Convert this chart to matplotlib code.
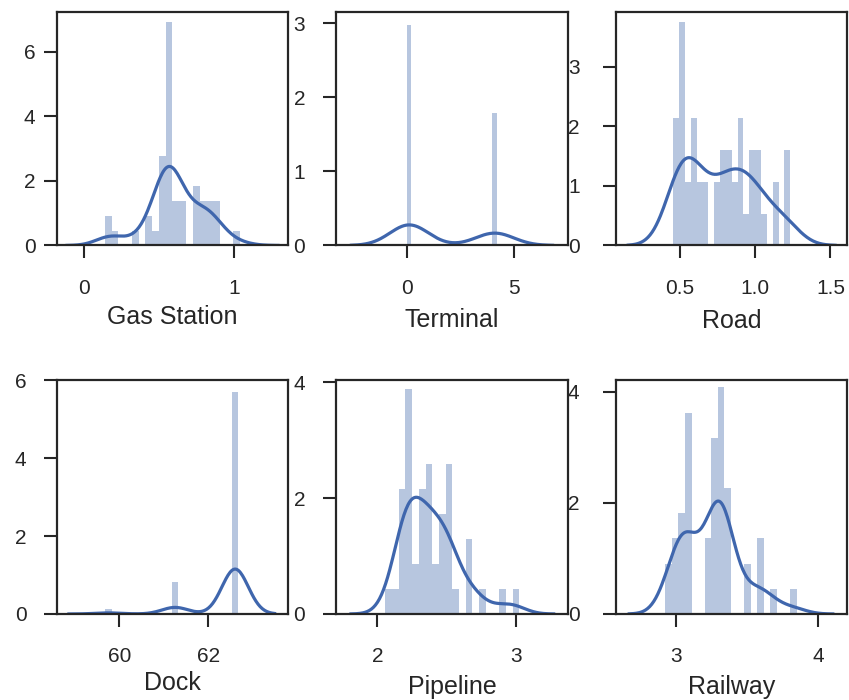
import matplotlib
matplotlib.use("Agg")
import matplotlib.pyplot as plt
import numpy as np
import seaborn as sns

# Histogram bins: first bin edge, bin width, count in each bin
gas_station_lo, gas_station_width = 0.138, 0.0451
gas_station_counts = [2, 1, 0, 0, 1, 0, 2, 1, 6, 15, 3, 3, 0, 4, 3, 3, 3, 0, 0, 1]

terminal_lo, terminal_width = 0.0, 0.21
terminal_counts = [30, 0, 0, 0, 0, 0, 0, 0, 0, 0, 0, 0, 0, 0, 0, 0, 0, 0, 0, 18]

road_lo, road_width = 0.455, 0.0389
road_counts = [4, 7, 2, 4, 2, 2, 0, 2, 3, 3, 2, 4, 1, 3, 3, 1, 0, 2, 0, 3]

dock_lo, dock_width = 59.68, 0.15
dock_counts = [1, 0, 0, 0, 0, 0, 0, 0, 0, 0, 6, 0, 0, 0, 0, 0, 0, 0, 0, 41]

pipeline_lo, pipeline_width = 2.058, 0.0482
pipeline_counts = [1, 1, 5, 9, 2, 5, 6, 2, 4, 6, 1, 0, 3, 0, 1, 0, 0, 1, 0, 1]

railway_lo, railway_width = 2.928, 0.046
railway_counts = [2, 3, 4, 8, 0, 0, 3, 7, 9, 5, 0, 0, 2, 0, 3, 0, 1, 0, 0, 1]

names = ["Gas Station", "Terminal", "Road", "Dock", "Pipeline", "Railway"]
x_ticks = [[0, 1], [0, 5], [0.5, 1.0, 1.5], [60, 62], [2, 3], [3, 4]]
y_ticks = [[0, 2, 4, 6], [0, 1, 2, 3], [0, 1, 2, 3], [0, 2, 4, 6], [0, 2, 4], [0, 2, 4]]

BAR = "#4C72B0"
LINE = "#3f66ad"
INK = "#262626"

plt.rcParams["font.family"] = ["Liberation Sans", "DejaVu Sans"]
plt.rcParams["axes.edgecolor"] = INK
plt.rcParams["axes.linewidth"] = 1.6
plt.rcParams["xtick.color"] = INK
plt.rcParams["ytick.color"] = INK
plt.rcParams["text.color"] = INK
plt.rcParams["axes.labelcolor"] = INK


def draw(ax, lo, width, counts, bw=1.0):
    counts = np.asarray(counts)
    edges = lo + width * np.arange(len(counts) + 1)
    values = np.repeat((edges[:-1] + edges[1:]) / 2, counts)
    ax.hist(values, bins=edges, density=True, color=BAR, alpha=0.4)
    sns.kdeplot(x=values, ax=ax, color=LINE, linewidth=2.3, bw_adjust=bw)


fig, axes = plt.subplots(2, 3, figsize=(8.49, 7.0), dpi=100)
fig.subplots_adjust(left=0.0671, right=0.9976, top=0.983, bottom=0.1229,
                    wspace=0.2075, hspace=0.578)
axes = axes.ravel()

draw(axes[0], gas_station_lo, gas_station_width, gas_station_counts, bw=1.1)
draw(axes[1], terminal_lo, terminal_width, terminal_counts)
draw(axes[2], road_lo, road_width, road_counts)
draw(axes[3], dock_lo, dock_width, dock_counts, bw=1.08)
draw(axes[4], pipeline_lo, pipeline_width, pipeline_counts)
draw(axes[5], railway_lo, railway_width, railway_counts)

# layout (panels were placed a bit unevenly)
xlims = [(-0.18, 1.36), (-3.3, 7.5), (0.073, 1.61), (58.6, 63.8), (1.705, 3.37), (2.58, 4.2)]
ylims = [(0, 7.24), (0, 3.15), (0, 3.92), (0, 6.0), (0, 4.03), (0, 4.2)]
ypads = [6.0, 13.0, 16.5, 12.5, 13.0, 16.5]
label_y = [-0.253, -0.267, -0.272, -0.245, -0.26, -0.262]

for i, ax in enumerate(axes):
    ax.set_xlim(*xlims[i])
    ax.set_ylim(*ylims[i])
    ax.set_xticks(x_ticks[i])
    ax.set_yticks(y_ticks[i])
    ax.tick_params(axis="x", direction="out", length=9, width=1.5, pad=15.0, labelsize=15)
    ax.tick_params(axis="y", direction="out", length=9.5, width=1.5, pad=ypads[i], labelsize=15)
    ax.set_ylabel("")
    ax.set_xlabel(names[i], fontsize=18)
    ax.xaxis.set_label_coords(0.5, label_y[i])

fig.savefig("out.png", dpi=100)
